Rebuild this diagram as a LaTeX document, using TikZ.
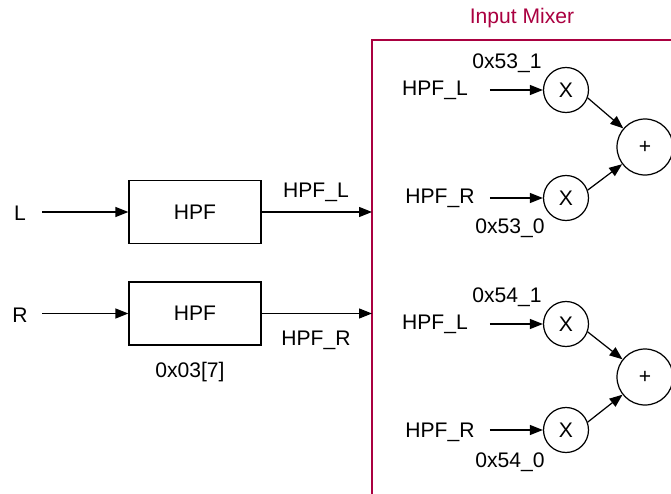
\documentclass[tikz,border=0pt]{standalone}
\usepackage{fontspec}
\setmainfont{Liberation Sans}
\usepackage{xcolor}
\usetikzlibrary{positioning, arrows.meta, shapes.geometric, calc}
\definecolor{mixred}{RGB}{170,0,64}

\begin{document}
\begin{tikzpicture}[font=\fontsize{12}{14}\selectfont,
    >={Triangle[length=2.6mm,width=2mm]}, line width=0.7pt,
    filt/.style={draw, minimum width=2.64cm, minimum height=1.26cm},
    mult/.style={draw, circle, minimum size=0.9cm, inner sep=0pt},
    summ/.style={draw, circle, minimum size=1.12cm, inner sep=0pt}]
\useasboundingbox (0,0) rectangle (13.42,9.86);
% input mixer frame
\node[mixred] (title) at (10.44,9.50) {Input Mixer};
\draw[mixred] (13.6,9.06) -- (7.44,9.06) -- (7.44,-0.1);
% high-pass filters
\node (inl) at (0.40,5.60) {L};
\node (inr) at (0.40,3.55) {R};
\node[filt] (hpfl) at (3.90,5.62) {HPF};
\node[filt] (hpfr) at (3.90,3.59) {HPF};
\node (reg) at (3.80,2.42) {0x03[7]};
\coordinate (outl) at (7.44,5.62);
\coordinate (outr) at (7.44,3.59);
\draw[->] (0.84,5.62) -- (hpfl);
\draw[->] (0.84,3.59) -- (hpfr);
\draw[->] (hpfl) -- (outl);
\draw[->] (hpfr) -- (outr);
\node (labl) at (6.32,6.02) {HPF\_L};
\node (labr) at (6.32,3.06) {HPF\_R};
% first mixer
\node[mult] (x1) at (11.32,8.06) {X};
\node[mult] (x2) at (11.32,5.90) {X};
\node[summ] (p1) at (12.90,6.92) {+};
\node (a1) at (8.70,8.06) {HPF\_L};
\node (a2) at (8.80,5.90) {HPF\_R};
\node (g1) at (10.14,8.60) {0x53\_1};
\node (g2) at (10.20,5.30) {0x53\_0};
\draw[->] ($(x1.west)+(-1.06,0)$) -- (x1.west);
\draw[->] ($(x2.west)+(-1.06,0)$) -- (x2.west);
\draw[->] (x1.-20) -- (p1);
\draw[->] (x2.20) -- (p1);
% second mixer
\node[mult] (x3) at (11.32,3.38) {X};
\node[mult] (x4) at (11.32,1.26) {X};
\node[summ] (p2) at (12.90,2.32) {+};
\node (a3) at (8.70,3.38) {HPF\_L};
\node (a4) at (8.80,1.22) {HPF\_R};
\node (g3) at (10.14,3.92) {0x54\_1};
\node (g4) at (10.20,0.62) {0x54\_0};
\draw[->] ($(x3.west)+(-1.06,0)$) -- (x3.west);
\draw[->] ($(x4.west)+(-1.06,0)$) -- (x4.west);
\draw[->] (x3.-20) -- (p2);
\draw[->] (x4.20) -- (p2);
\end{tikzpicture}
\end{document}
